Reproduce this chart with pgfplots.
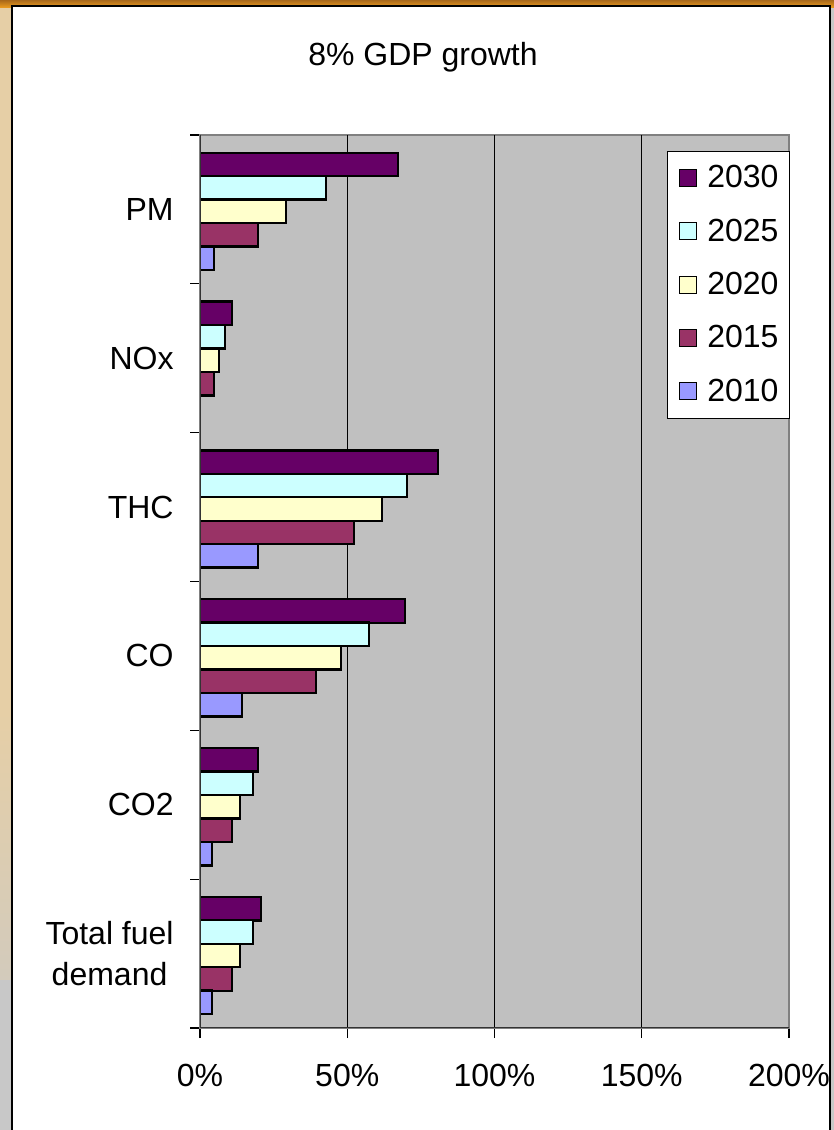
\documentclass[border=0pt]{standalone}
\usepackage{fontspec}
\setmainfont{Liberation Sans}
\usepackage{pgfplots}
\pgfplotsset{compat=1.18}
\definecolor{cA}{HTML}{660066}
\definecolor{cB}{HTML}{CCFFFF}
\definecolor{cC}{HTML}{FFFFCC}
\definecolor{cD}{HTML}{993366}
\definecolor{cE}{HTML}{9999FF}
\definecolor{plotgray}{HTML}{C0C0C0}
\definecolor{framegray}{HTML}{808080}
\definecolor{beige}{HTML}{E6CFA6}
\definecolor{leftgray}{HTML}{C8C8C8}
\definecolor{orangeA}{HTML}{A8681A}
\definecolor{orangeB}{HTML}{F0A020}
\newcommand{\bigfont}{\fontsize{16.06}{20.6}\selectfont}
\begin{document}
\begin{tikzpicture}
\path[use as bounding box] (0bp,0bp) rectangle (417bp,565bp);
\fill[beige] (0bp,0bp) rectangle (417bp,565bp);
\shade[top color=beige, bottom color=leftgray] (0bp,0bp) rectangle (7bp,210bp);
\fill[leftgray] (0bp,0bp) rectangle (7bp,75bp);
\shade[top color=orangeA, bottom color=orangeB] (0bp,561bp) rectangle (417bp,565bp);
\fill[leftgray] (415.5bp,0bp) rectangle (417bp,561bp);
\draw[line width=1.25bp, fill=white] (6bp,-10bp) rectangle (415bp,562bp);
\node[anchor=base, font=\bigfont, inner sep=0pt] at (211.5bp,532.15bp) {8\% GDP growth};
\begin{axis}[
  at={(100bp,51bp)}, anchor=south west, scale only axis,
  width=294.5bp, height=446.5bp,
  xbar, xmin=0, xmax=200, ymin=-0.5, ymax=5.5,
  axis background/.style={fill=plotgray},
  axis line style={draw=framegray, line width=1.2bp},
  xtick={0,50,100,150,200},
  xticklabels={0\%,50\%,100\%,150\%,200\%},
  extra x ticks={50,100,150},
  extra x tick labels={},
  extra x tick style={grid=major, major tick length=0pt},
  major grid style={black, line width=0.6bp},
  ytick={0,1,2,3,4,5},
  yticklabels={{Total fuel\\demand},CO2,CO,THC,NOx,PM},
  minor ytick={-0.5,0.5,1.5,2.5,3.5,4.5,5.5},
  xtick pos=bottom, ytick pos=left,
  tick align=outside,
  major tick length=5bp, minor tick length=5bp,
  tick style={black, line width=0.6bp},
  major y tick style={draw=none},
  tick label style={font=\bigfont},
  xticklabel style={anchor=north, inner sep=0pt, yshift=-13bp},
  yticklabel style={anchor=east, align=center, inner sep=0pt, xshift=-8bp},
  bar width=0.1577,
  legend cell align=left,
  legend style={at={(rel axis cs:0.793,0.982)}, anchor=north west,
    fill=white, draw=black, line width=0.5bp,
    inner xsep=5.75bp, inner ysep=7bp, row sep=14bp, column sep=5bp,
    font=\bigfont,
    nodes={inner sep=0pt}},
  legend image code/.code={\draw[#1, line width=0.6bp, draw=black] (0bp,-4.1bp) rectangle (8.5bp,4.4bp);},
]
\addplot[fill=cA, draw=black, line width=1.2bp, bar shift=0.302]
  coordinates {(20.7,0) (19.7,1) (69.6,2) (80.8,3) (10.9,4) (67.2,5)};
\addplot[fill=cB, draw=black, line width=1.2bp, bar shift=0.145]
  coordinates {(18.0,0) (18.0,1) (57.4,2) (70.3,3) (8.5,4) (42.8,5)};
\addplot[fill=cC, draw=black, line width=1.2bp, bar shift=-0.013]
  coordinates {(13.6,0) (13.6,1) (47.9,2) (61.8,3) (6.5,4) (29.2,5)};
\addplot[fill=cD, draw=black, line width=1.2bp, bar shift=-0.171]
  coordinates {(10.9,0) (10.9,1) (39.4,2) (52.3,3) (4.8,4) (19.7,5)};
\addplot[fill=cE, draw=black, line width=1.2bp, bar shift=-0.328]
  coordinates {(4.1,0) (4.1,1) (14.3,2) (19.7,3) (4.8,5)};
\legend{2030,2025,2020,2015,2010}
\draw[black!80, line width=1.2bp] (rel axis cs:0,1) -- (rel axis cs:0,0) -- (rel axis cs:1,0);
\end{axis}
\end{tikzpicture}
\end{document}
